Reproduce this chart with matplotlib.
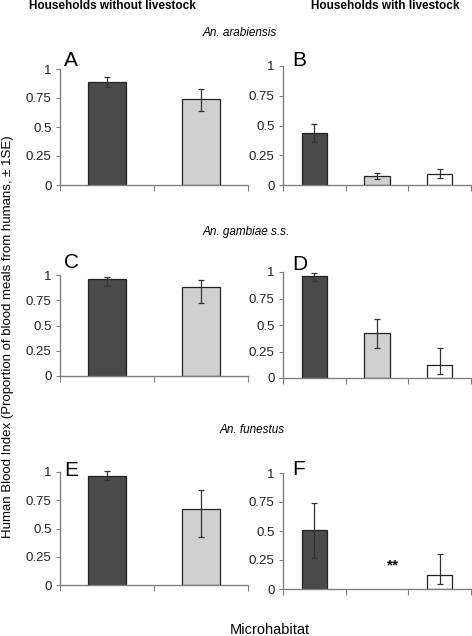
import numpy as np
import matplotlib
matplotlib.use('Agg')
import matplotlib.pyplot as plt

plt.rcParams['font.family'] = ['Liberation Sans', 'DejaVu Sans']

# Human blood index per microhabitat (dark, light, white bars)
vals_A = [0.885, 0.74]
lo_A = [0.842, 0.642]
hi_A = [0.928, 0.825]

vals_B = [0.44, 0.078, 0.095]
lo_B = [0.365, 0.053, 0.058]
hi_B = [0.51, 0.103, 0.134]

vals_C = [0.957, 0.885]
lo_C = [0.888, 0.727]
hi_C = [0.984, 0.954]

vals_D = [0.962, 0.42, 0.123]
lo_D = [0.918, 0.28, 0.041]
hi_D = [0.987, 0.555, 0.287]

vals_E = [0.968, 0.67]
lo_E = [0.93, 0.425]
hi_E = [1.01, 0.844]

vals_F = [0.507, 0.0, 0.123]
lo_F = [0.264, 0.0, 0.04]
hi_F = [0.742, 0.0, 0.304]

yticks = [0, 0.25, 0.5, 0.75, 1]
ytick_labels = ['0', '0.25', '0.5', '0.75', '1']
species = ['An. arabiensis', 'An. gambiae s.s.', 'An. funestus']
colors = ['#4a4a4a', '#d0d0d0', '#ffffff']

W, H = 472, 636
fig = plt.figure(figsize=(W / 100, H / 100), dpi=100)


def add_ax(x0, x1, ytop, ybot):
    return fig.add_axes([x0 / W, 1 - ybot / H, (x1 - x0) / W, (ybot - ytop) / H])


def draw(ax, vals, lo, hi, letter, lx, lbase):
    n = len(vals)
    x = np.arange(n) + 0.5
    for xi, v, c in zip(x, vals, colors):
        if v == 0:
            continue
        ax.bar(xi, v, width=0.4, color=c, edgecolor='#222222', linewidth=0.9, zorder=2)
        ax.errorbar(xi, v, yerr=[[v - lo[list(x).index(xi)]], [hi[list(x).index(xi)] - v]],
                    fmt='none', ecolor='#333333', elinewidth=0.9, capsize=2.5,
                    capthick=0.9, zorder=3, clip_on=False)
    ax.set_xlim(0, n)
    ax.set_ylim(0, 1)
    ax.set_xticks(np.arange(n + 1))
    ax.set_xticklabels([])
    ax.set_yticks(yticks)
    ax.set_yticklabels(ytick_labels, fontsize=9.5, color='#222222')
    for s in ['top', 'right']:
        ax.spines[s].set_visible(False)
    for s in ['left', 'bottom']:
        ax.spines[s].set_color('#808080')
        ax.spines[s].set_linewidth(1)
    ax.tick_params(axis='y', direction='out', length=3, color='#808080', pad=3)
    ax.tick_params(axis='x', direction='out', length=4, color='#808080')
    fig.text(lx / W, 1 - lbase / H, letter, fontsize=15, va='baseline', ha='left')
    return ax


axA = draw(add_ax(60, 248, 69, 185), vals_A, lo_A, hi_A, 'A', 64, 66)
axB = draw(add_ax(283, 471, 66, 185), vals_B, lo_B, hi_B, 'B', 292, 66)
axC = draw(add_ax(60, 248, 275, 376), vals_C, lo_C, hi_C, 'C', 64, 268)
axD = draw(add_ax(283, 471, 272, 378), vals_D, lo_D, hi_D, 'D', 292, 270)
axE = draw(add_ax(60, 248, 472, 585), vals_E, lo_E, hi_E, 'E', 64, 476)
axF = draw(add_ax(283, 471, 473, 589), vals_F, lo_F, hi_F, 'F', 292, 475)

axF.text(1.75, 0.2, '**', ha='center', va='center', fontsize=11, fontweight='bold')

fig.text(112 / W, 1 - 6 / H, 'Households without livestock', ha='center', va='center',
         fontsize=8.5, fontweight='bold')
fig.text(385 / W, 1 - 6 / H, 'Households with livestock', ha='center', va='center',
         fontsize=8.5, fontweight='bold')

for sp, cx, y in zip(species, [240, 246, 252], [33, 232, 430]):
    fig.text(cx / W, 1 - y / H, sp, ha='center', va='center', fontsize=8.5, style='italic')

fig.text(8 / W, 1 - 337 / H, 'Human Blood Index (Proportion of blood meals from humans, \u00b1 1SE)',
         rotation=90, ha='center', va='center', fontsize=9.5)
fig.text(270 / W, 1 - 630 / H, 'Microhabitat', ha='center', va='center', fontsize=10.5)

fig.savefig('out.png', dpi=100)
